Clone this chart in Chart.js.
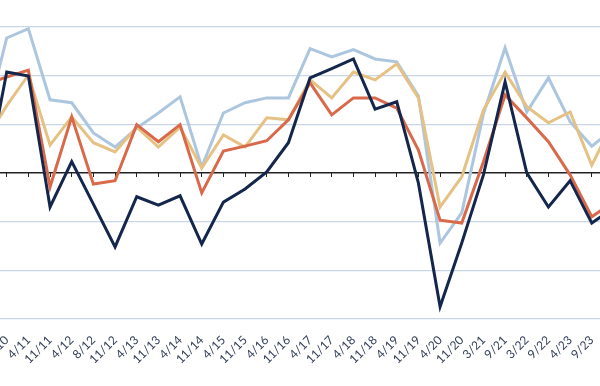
<!DOCTYPE html>
<html>
<head>
<meta charset="utf-8">
<script src="https://cdn.jsdelivr.net/npm/chart.js@4/dist/chart.umd.min.js"></script>
<style>
  html, body { margin: 0; padding: 0; background: #ffffff; }
  #wrap { width: 600px; height: 386px; }
</style>
</head>
<body>
<div id="wrap"><canvas id="myChart" width="600" height="386"></canvas></div>
<script>
'use strict';
// ******* Global Variables *******
let surveyDates = ['4/10', '11/10', '4/11', '11/11', '4/12', '8/12', '11/12', '4/13', '11/13', '4/14',
  '11/14', '4/15', '11/15', '4/16', '11/16', '4/17', '11/17', '4/18', '11/18', '4/19',
  '11/19', '4/20', '11/20', '3/21', '9/21', '3/22', '9/22', '4/23', '9/23', '3/24'];

let navyValues = [-2.5, 20.7, 19.9, -7.0, 2.3, -6.4, -15.2, -4.9, -6.6, -4.7,
  -14.6, -6.0, -3.3, 0.2, 6.2, 19.5, 21.4, 23.4, 13.1, 14.6,
  -2.1, -27.5, -14.4, -0.4, 18.7, 0.0, -7.0, -1.6, -10.3, -7.2];

let orangeValues = [18.1, 19.7, 21.1, -2.9, 11.5, -2.3, -1.6, 9.9, 6.4, 9.9,
  -4.1, 4.5, 5.5, 6.6, 10.9, 18.5, 11.9, 15.4, 15.4, 13.3,
  4.7, -9.7, -10.3, 2.3, 16.0, 11.3, 6.4, -0.4, -9.0, -6.0];

let tanValues = [6.6, 13.8, 20.1, 5.7, 11.5, 6.2, 4.3, 9.4, 5.3, 9.4,
  1.0, 7.8, 5.3, 11.3, 10.9, 19.1, 15.4, 20.7, 19.1, 22.4,
  15.4, -7.0, -0.8, 12.9, 20.7, 13.6, 10.3, 12.5, 1.6, 10.5];

let lightBlueValues = [9.9, 27.7, 29.6, 15.0, 14.4, 8.2, 5.3, 9.2, 12.3, 15.6,
  1.2, 12.3, 14.4, 15.4, 15.4, 25.5, 23.8, 25.3, 23.4, 22.8,
  15.8, -14.4, -8.2, 12.1, 25.7, 12.5, 19.5, 10.5, 5.5, 9.0];

let yTicks = [-30, -20, -10, 0, 10, 20, 30];

// ****** Canvas Ref ******
let ctx = document.getElementById('myChart');

function toPoints(values) {
  return values.map((v, i) => ({ x: i, y: v }));
}

function makeLine(values, color) {
  return {
    data: toPoints(values),
    borderColor: color,
    backgroundColor: color,
    borderWidth: 3,
    pointRadius: 0,
    tension: 0,
    fill: false
  };
}

// visible window of the category axis (chart is cropped at both sides)
let xMin = 0.69;
let xMax = 28.38;

let myChartObj = {
  type: 'line',
  data: {
    datasets: [
      makeLine(navyValues, '#14264b'),
      makeLine(orangeValues, '#d8694a'),
      makeLine(tanValues, '#e5c183'),
      makeLine(lightBlueValues, '#abc6de')
    ]
  },
  options: {
    responsive: false,
    animation: false,
    layout: { padding: 0 },
    plugins: {
      legend: { display: false },
      tooltip: { enabled: false }
    },
    scales: {
      x: {
        type: 'linear',
        min: xMin,
        max: xMax,
        grid: { display: false },
        border: { display: false },
        ticks: {
          stepSize: 1,
          includeBounds: false,
          autoSkip: false,
          minRotation: 45,
          maxRotation: 45,
          padding: 6,
          color: '#34405a',
          font: { family: 'Lato', size: 12 },
          callback: function (value) {
            return Number.isInteger(value) ? surveyDates[value] : '';
          }
        },
        afterFit: function (scale) {
          scale.height = 67;
          scale.paddingLeft = 0;
          scale.paddingRight = 0;
        }
      },
      // little tick marks sitting on the zero line
      xZero: {
        type: 'linear',
        axis: 'x',
        position: { y: 0 },
        min: xMin,
        max: xMax,
        border: { display: false },
        grid: {
          drawOnChartArea: false,
          drawTicks: true,
          tickLength: 4,
          color: '#222222',
          lineWidth: 1
        },
        ticks: { display: false, stepSize: 1, includeBounds: false },
        afterFit: function (scale) {
          scale.paddingLeft = 0;
          scale.paddingRight = 0;
        }
      },
      y: {
        min: -30,
        max: 35.5,
        border: { display: false },
        grid: {
          drawTicks: false,
          color: function (c) {
            if (c.tick.value === 0) return '#222222';
            return yTicks.includes(c.tick.value) ? '#c8d6e6' : 'rgba(0,0,0,0)';
          },
          lineWidth: function (c) {
            return c.tick.value === 0 ? 1.5 : 1.2;
          }
        },
        ticks: { display: false, stepSize: 10, includeBounds: false },
        afterFit: function (scale) {
          scale.width = 0;
        }
      }
    }
  }
};

new Chart(ctx, myChartObj);
</script>
</body>
</html>
